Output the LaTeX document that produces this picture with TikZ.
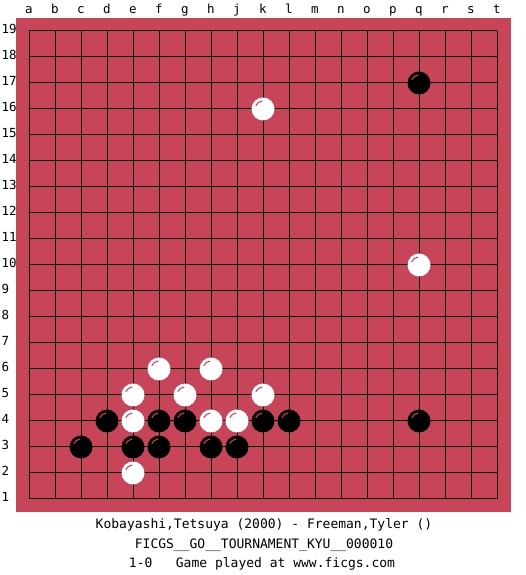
\documentclass[tikz,border=0pt]{standalone}
\usepackage{fontspec}
\setmonofont{DejaVu Sans Mono}
\definecolor{board}{RGB}{200,68,88}
\begin{document}
\begin{tikzpicture}[x=1pt,y=1pt,
  lbl/.style={font=\ttfamily\fontsize{12.5}{12.5}\selectfont, inner sep=0pt},
  caption/.style={font=\ttfamily\fontsize{13}{13}\selectfont, inner sep=0pt, anchor=base},
  gridline/.style={line width=1pt, black},
  bst/.style={fill=black},
  wst/.style={fill=white},
  shine/.style={board, line width=1.1pt}]
\useasboundingbox (0,0) rectangle (525,575);
\fill[board] (16,63) rectangle (511,557);
\foreach \i in {0,...,18} {
  \draw[gridline] (29+26*\i,76) -- (29+26*\i,544);
  \draw[gridline] (29,76+26*\i) -- (497,76+26*\i);
}
\foreach \l [count=\i from 0] in {a,b,c,d,e,f,g,h,j,k,l,m,n,o,p,q,r,s,t}
  \node[lbl, anchor=base] (col\l) at (29+26*\i,561) {\l};
\foreach \r in {1,...,19}
  \node[lbl, anchor=west] (row\r) at (1.5,52+26*\r) {\r};
% black stones
\foreach \c/\r in {15/17,2/3,3/4,4/3,5/4,5/3,6/4,7/3,8/3,9/4,10/4,15/4} {
  \fill[bst] (29+26*\c,50+26*\r) circle[radius=11.5pt];
  \draw[shine] (29+26*\c,50+26*\r) ++(155:8pt) arc[start angle=155, end angle=95, radius=8pt];
}
% white stones
\foreach \c/\r in {9/16,15/10,5/6,7/6,4/5,6/5,9/5,4/4,7/4,8/4,4/2} {
  \fill[wst] (29+26*\c,50+26*\r) circle[radius=11.5pt];
  \draw[shine] (29+26*\c,50+26*\r) ++(155:8pt) arc[start angle=155, end angle=95, radius=8pt];
}
\node[caption] (players) at (264,46) {Kobayashi,Tetsuya (2000) - Freeman,Tyler ()};
\node[caption] (event) at (264,27) {FICGS\_\_GO\_\_TOURNAMENT\_KYU\_\_000010};
\node[caption] (result) at (262,7) {1-0\ \ \ Game played at www.ficgs.com};
\end{tikzpicture}
\end{document}
